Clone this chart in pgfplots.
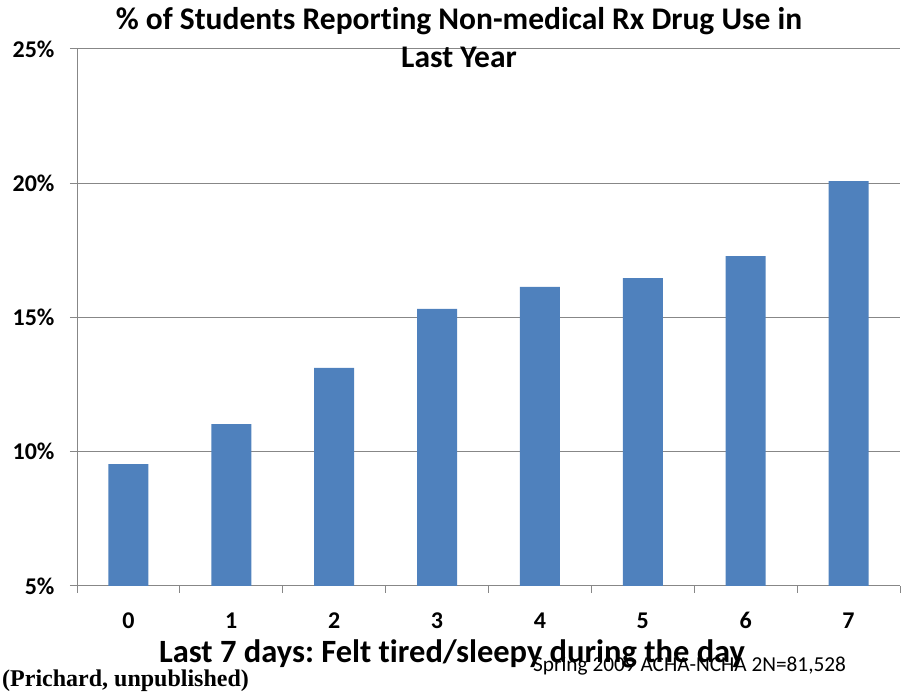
\documentclass[border=0pt]{standalone}
\usepackage{pgfplots}
\pgfplotsset{compat=1.18}
\usepackage{fontspec}
\setmainfont{Carlito}[RawFeature=-liga]
\newfontfamily\timesfont{Liberation Serif}
\definecolor{barblue}{HTML}{4F81BD}
\definecolor{gridgray}{HTML}{878787}
\frenchspacing
\begin{document}
\begin{tikzpicture}[x=1pt,y=1pt]
\path[use as bounding box] (0,0) rectangle (906,700);
\begin{axis}[
  at={(77pt,114pt)}, anchor=south west,
  scale only axis, width=823pt, height=537pt,
  xmin=-0.5, xmax=7.5, ymin=5, ymax=25,
  ytick={5,10,15,20,25},
  yticklabel={\pgfmathprintnumber[fixed,precision=0]{\tick}\%},
  /pgf/number format/assume math mode=true,
  xtick={-0.5,0.5,...,7.5},
  x tick label as interval,
  xticklabels={0,1,2,3,4,5,6,7},
  axis x line*=bottom, axis y line*=left,
  axis line style={gridgray, line width=1pt, -},
  ymajorgrids, grid style={gridgray, line width=1pt},
  tick align=outside, major tick length=7pt,
  tick style={gridgray, line width=1pt},
  ticklabel style={font=\fontsize{24}{28}\selectfont\bfseries},
  yticklabel style={xshift=-12pt},
  xticklabel style={anchor=base, yshift=-36pt},
]
\addplot[ybar, bar width=40pt, fill=barblue, draw=none] coordinates {
 (0,9.54) (1,11.03) (2,13.12) (3,15.32) (4,16.14) (5,16.47) (6,17.29) (7,20.08)};
\end{axis}
\node[anchor=base, font=\fontsize{31.5}{36}\selectfont\bfseries] at (459,670) {\% of Students Reporting Non-medical Rx Drug Use in};
\node[anchor=base, font=\fontsize{31.5}{36}\selectfont\bfseries] at (459,632) {Last Year};
\node[anchor=base, font=\fontsize{32.5}{36}\selectfont\bfseries] at (452,37) {Last 7 days: Felt tired/sleepy during the day};
\node[anchor=base west, inner sep=0pt, font=\timesfont\fontsize{24}{28}\selectfont\bfseries] at (2,13) {(Prichard, unpublished)};
\node[anchor=base west, inner sep=0pt, font=\fontsize{21.3}{24}\selectfont] at (533,28) {Spring 2009 ACHA-NCHA 2N=81,528};
\end{tikzpicture}
\end{document}
